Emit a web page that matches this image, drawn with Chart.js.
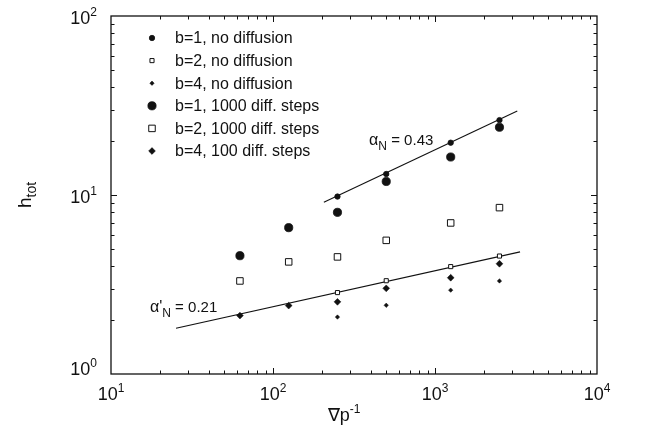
<!DOCTYPE html>
<html><head><meta charset="utf-8">
<script src="https://cdn.jsdelivr.net/npm/chart.js@4/dist/chart.umd.min.js"></script>
<style>html,body{margin:0;padding:0;background:#fff}#wrap{width:658px;height:438px;position:relative}</style>
</head><body><div id="wrap"><canvas id="c"></canvas></div>
<script>
// ---- data ----
const gradXs      = [62.5, 125, 250, 500, 1250, 2500];
const b1NoDiff    = [null, null, 9.8, 13.1, 19.6, 26.2];
const b2NoDiff    = [null, null, 2.85, 3.32, 3.98, 4.56];
const b4NoDiff    = [null, null, 2.08, 2.42, 2.94, 3.31];
const b1Diff1000  = [4.58, 6.57, 8.0, 11.9, 16.3, 23.9];
const b2Diff1000  = [3.31, 4.23, 4.51, 5.58, 6.98, 8.5];
const b4Diff100   = [2.12, 2.41, 2.53, 3.01, 3.45, 4.13];
const fitUpperX   = [206, 3220];
const fitUpperY   = [9.1, 29.5];
const fitLowerX   = [25.2, 3350];
const fitLowerY   = [1.80, 4.81];
const seriesLabels = ['b=1, no diffusion','b=2, no diffusion','b=4, no diffusion',
                      'b=1, 1000 diff. steps','b=2, 1000 diff. steps','b=4, 100 diff. steps'];
const xTickValues = [10, 100, 1000, 10000];
const xTickExps   = ['1','2','3','4'];
const yTickValues = [1, 10, 100];
const yTickExps   = ['0','1','2'];
const annUpper = {base:'\u03b1', sub:'N', rest:' = 0.43', x:392, y:19.0};
const annLower = {base:'\u03b1\'', sub:'N', rest:' = 0.21', x:17.4, y:2.22};

const INK = '#111';
const styles = [
  {pointStyle:'circle',  radius:2.7, fill:INK,    bw:0.8},
  {pointStyle:'rect',    radius:2.9, fill:'#fff', bw:1},
  {pointStyle:'rectRot', radius:2.2, fill:INK,    bw:0.5},
  {pointStyle:'circle',  radius:4.1, fill:INK,    bw:0.8},
  {pointStyle:'rect',    radius:4.6, fill:'#fff', bw:1},
  {pointStyle:'rectRot', radius:3.4, fill:INK,    bw:0.5}
];
const seriesValues = [b1NoDiff, b2NoDiff, b4NoDiff, b1Diff1000, b2Diff1000, b4Diff100];
function pts(xs, ys){ const o=[]; xs.forEach((x,i)=>{ if(ys[i]!=null) o.push({x:x,y:ys[i]}); }); return o; }

const datasets = [];
[4,5,3,0,1,2].forEach(i=>{
  const s = styles[i];
  datasets.push({type:'scatter', label:seriesLabels[i], data:pts(gradXs, seriesValues[i]),
    pointStyle:s.pointStyle, pointRadius:s.radius, pointHoverRadius:s.radius,
    backgroundColor:s.fill, borderColor:INK, borderWidth:s.bw});
});
datasets.push({type:'line', label:'fitU', data:pts(fitUpperX, fitUpperY), borderColor:INK, borderWidth:1.1, pointRadius:0, fill:false});
datasets.push({type:'line', label:'fitL', data:pts(fitLowerX, fitLowerY), borderColor:INK, borderWidth:1.1, pointRadius:0, fill:false});

const FONT = '"Liberation Sans", Arial, Helvetica, sans-serif';

function drawSupText(ctx, base, sup, x, y, size, supSize, align, shift){
  ctx.font = size+'px '+FONT; const wb = ctx.measureText(base).width;
  ctx.font = supSize+'px '+FONT; const ws = ctx.measureText(sup).width;
  const total = wb+ws;
  let sx = x;
  if(align==='center') sx = x-total/2; else if(align==='right') sx = x-total;
  ctx.textAlign='left'; ctx.textBaseline='alphabetic';
  ctx.font = size+'px '+FONT; ctx.fillText(base, sx, y);
  ctx.font = supSize+'px '+FONT; ctx.fillText(sup, sx+wb, y+shift);
  return total;
}
function drawPt(ctx, s, x, y){
  ctx.save();
  ctx.fillStyle = s.fill; ctx.strokeStyle = INK; ctx.lineWidth = s.bw;
  if (Chart.helpers && Chart.helpers.drawPoint) {
    Chart.helpers.drawPoint(ctx, {pointStyle:s.pointStyle, radius:s.radius, borderWidth:s.bw, rotation:0}, x, y);
  } else {
    ctx.beginPath();
    if(s.pointStyle==='circle') ctx.arc(x,y,s.radius,0,Math.PI*2);
    else if(s.pointStyle==='rect'){ const h=s.radius*Math.SQRT1_2; ctx.rect(x-h,y-h,2*h,2*h); }
    else { const r=s.radius; ctx.moveTo(x-r,y); ctx.lineTo(x,y-r); ctx.lineTo(x+r,y); ctx.lineTo(x,y+r); ctx.closePath(); }
    ctx.fill(); ctx.stroke();
  }
  ctx.restore();
}

const decor = {
  id:'decor',
  afterDraw(chart){
    const ctx = chart.ctx, a = chart.chartArea, xs = chart.scales.x, ys = chart.scales.y;
    ctx.save();
    ctx.strokeStyle = INK; ctx.fillStyle = INK;
    ctx.lineWidth = 1.3;
    ctx.strokeRect(a.left, a.top, a.right-a.left, a.bottom-a.top);
    ctx.lineWidth = 1;
    ctx.beginPath();
    for(let d=10; d<10000; d*=10){
      for(let m=1; m<10; m++){
        if(m===1 && d===10) continue;
        const px = Math.round(xs.getPixelForValue(d*m))+0.5;
        const L = m===1?6:3.5;
        ctx.moveTo(px, a.bottom); ctx.lineTo(px, a.bottom-L);
        ctx.moveTo(px, a.top); ctx.lineTo(px, a.top+L);
      }
    }
    for(let d=1; d<100; d*=10){
      for(let m=1; m<10; m++){
        if(m===1 && d===1) continue;
        const py = Math.round(ys.getPixelForValue(d*m))+0.5;
        const L = m===1?6:3.5;
        ctx.moveTo(a.left, py); ctx.lineTo(a.left+L, py);
        ctx.moveTo(a.right, py); ctx.lineTo(a.right-L, py);
      }
    }
    ctx.stroke();
    xTickValues.forEach((v,i)=>{
      drawSupText(ctx, '10', xTickExps[i], xs.getPixelForValue(v), a.bottom+26, 18, 12, 'center', -8);
    });
    yTickValues.forEach((v,i)=>{
      const py = ys.getPixelForValue(v);
      drawSupText(ctx, '10', yTickExps[i], a.left-14, Math.min(py+8, a.bottom+1), 18, 12, 'right', -8);
    });
    drawSupText(ctx, '\u2207p', '-1', (a.left+a.right)/2 - 10, a.bottom+47, 18, 12, 'center', -8);
    ctx.save();
    ctx.translate(31, (a.top+a.bottom)/2);
    ctx.rotate(-Math.PI/2);
    drawSupText(ctx, 'h', 'tot', 0, 0, 19, 14, 'center', 5);
    ctx.restore();
    [annUpper, annLower].forEach(an=>{
      const px = xs.getPixelForValue(an.x), py = ys.getPixelForValue(an.y);
      ctx.textAlign='left'; ctx.textBaseline='alphabetic';
      ctx.font='16px '+FONT; ctx.fillText(an.base, px, py);
      let w = ctx.measureText(an.base).width;
      ctx.font='12px '+FONT; ctx.fillText(an.sub, px+w, py+5);
      w += ctx.measureText(an.sub).width;
      ctx.font='15px '+FONT; ctx.fillText(an.rest, px+w, py);
    });
    const lx = a.left+41, tx = a.left+64, ly0 = a.top+22, dy = 22.6;
    seriesLabels.forEach((lab,i)=>{
      const y = ly0 + i*dy;
      drawPt(ctx, styles[i], lx, y);
      ctx.fillStyle = INK; ctx.font='16px '+FONT; ctx.textAlign='left'; ctx.textBaseline='middle';
      ctx.fillText(lab, tx, y+1);
    });
    ctx.restore();
  }
};

new Chart(document.getElementById('c'), {
  type:'scatter',
  data:{datasets:datasets},
  options:{
    responsive:true, maintainAspectRatio:false, animation:false,
    layout:{padding:{left:111, right:61, top:16, bottom:64}},
    plugins:{legend:{display:false}, tooltip:{enabled:false}},
    scales:{
      x:{type:'logarithmic', min:10, max:10000, display:false},
      y:{type:'logarithmic', min:1, max:100, display:false}
    }
  },
  plugins:[decor]
});
</script></body></html>
